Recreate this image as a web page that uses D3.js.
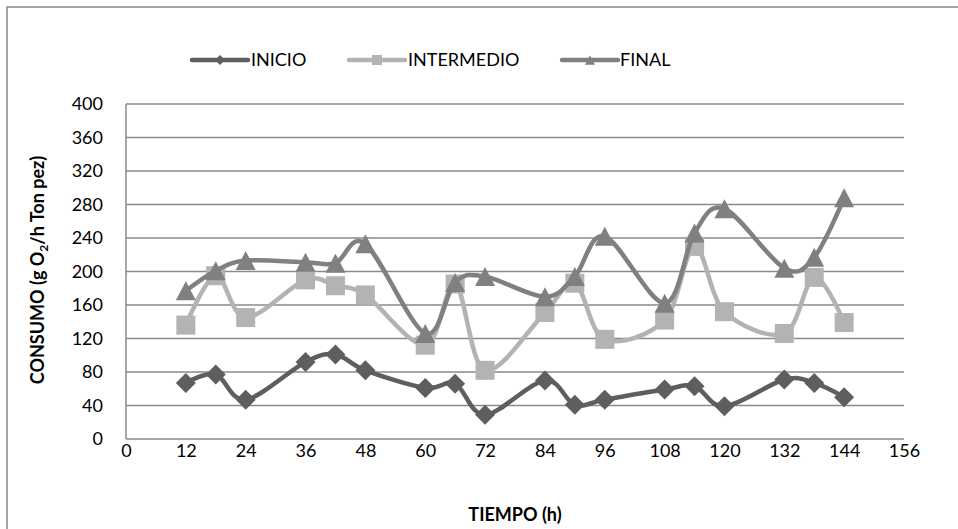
<!DOCTYPE html>
<html>
<head>
<meta charset="utf-8">
<script src="https://cdn.jsdelivr.net/npm/d3@7/dist/d3.min.js"></script>
<style>
  html, body { margin: 0; padding: 0; background: #fff; }
  svg { display: block; }
  text { font-family: Lato, "Open Sans", sans-serif; fill: #000; }
</style>
</head>
<body>
<svg id="chart" width="958" height="529"></svg>
<script>
// Sampling times (hours)
const hours = [12, 18, 24, 36, 42, 48, 60, 66, 72, 84, 90, 96, 108, 114, 120, 132, 138, 144];

// Oxygen consumption (g O2 / h Ton pez) for each stage
const inicio     = [67, 77, 47, 92, 101, 82, 61, 66, 29, 70, 41, 47, 59, 63, 39, 71, 67, 50];
const intermedio = [136, 195, 145, 190, 183, 172, 112, 185, 82, 151, 186, 119, 142, 230, 152, 126, 193, 139];
const final      = [177, 201, 213, 211, 210, 233, 126, 187, 194, 170, 194, 242, 162, 246, 275, 204, 217, 288];

const seriesNames = ["INICIO", "INTERMEDIO", "FINAL"];
const xTicks = [0, 12, 24, 36, 48, 60, 72, 84, 96, 108, 120, 132, 144, 156];
const yTicks = [0, 40, 80, 120, 160, 200, 240, 280, 320, 360, 400];

const svg = d3.select("#chart");

const plot = { left: 126, right: 904, top: 104, bottom: 439 };
const x = d3.scaleLinear().domain([0, 156]).range([plot.left, plot.right]);
const y = d3.scaleLinear().domain([0, 400]).range([plot.bottom, plot.top]);

const styles = [
  { color: "#5e5e5e", marker: "diamond" },
  { color: "#b3b3b3", marker: "square" },
  { color: "#808080", marker: "triangle" }
];

// Outer chart frame
svg.append("rect")
  .attr("x", 7).attr("y", 7)
  .attr("width", 980).attr("height", 560)
  .attr("fill", "none").attr("stroke", "#878787").attr("stroke-width", 1.5);

// Horizontal gridlines
svg.append("g")
  .selectAll("line")
  .data(yTicks)
  .join("line")
  .attr("x1", plot.left).attr("x2", plot.right)
  .attr("y1", d => y(d)).attr("y2", d => y(d))
  .attr("stroke", "#8a8a8a").attr("stroke-width", 1.5);

// Left axis line
svg.append("line")
  .attr("x1", plot.left).attr("x2", plot.left)
  .attr("y1", plot.top).attr("y2", plot.bottom)
  .attr("stroke", "#8a8a8a").attr("stroke-width", 1.5);

// Y tick labels
const yAxis = d3.axisLeft(y).tickValues(yTicks).tickSize(0).tickPadding(23);
const gy = svg.append("g").attr("transform", `translate(${plot.left},0)`).call(yAxis);
gy.select(".domain").remove();
gy.selectAll("text").attr("font-size", 18).attr("font-family", "Lato, sans-serif").attr("fill", "#000");

// X tick labels
const xAxis = d3.axisBottom(x).tickValues(xTicks).tickSize(0).tickPadding(5);
const gx = svg.append("g").attr("transform", `translate(0,${plot.bottom})`).call(xAxis);
gx.select(".domain").remove();
gx.selectAll("text").attr("font-size", 18).attr("font-family", "Lato, sans-serif").attr("fill", "#000");

// Axis titles
svg.append("text")
  .attr("x", (plot.left + plot.right) / 2)
  .attr("y", 521)
  .attr("text-anchor", "middle")
  .attr("font-size", 18).attr("font-weight", "bold")
  .text("TIEMPO (h)");

const yTitle = svg.append("text")
  .attr("transform", "translate(44,270) rotate(-90)")
  .attr("text-anchor", "middle")
  .attr("font-size", 18).attr("font-weight", "bold");
yTitle.append("tspan").text("CONSUMO (g O");
yTitle.append("tspan").attr("font-size", 12).attr("dy", 4).text("2");
yTitle.append("tspan").attr("dy", -4).text("/h Ton pez)");

// Marker shapes
function markerPath(kind, s) {
  if (kind === "diamond") return `M0,${-s}L${s},0L0,${s}L${-s},0Z`;
  if (kind === "square") return `M${-s},${-s}H${s}V${s}H${-s}Z`;
  const h = s * 1.9;
  return `M0,${-h / 2}L${s},${h / 2}L${-s},${h / 2}Z`;
}
const markerSize = { diamond: 10, square: 9.5, triangle: 10 };

const line = d3.line()
  .x(d => x(d[0]))
  .y(d => y(d[1]))
  .curve(d3.curveCatmullRom.alpha(0));

const allSeries = [inicio, intermedio, final];
allSeries.forEach((vals, i) => {
  const pts = hours.map((h, j) => [h, vals[j]]);
  const st = styles[i];
  const g = svg.append("g");
  g.append("path")
    .attr("d", line(pts))
    .attr("fill", "none")
    .attr("stroke", st.color)
    .attr("stroke-width", 4.5)
    .attr("stroke-linejoin", "round")
    .attr("stroke-linecap", "round");
  g.selectAll("path.m")
    .data(pts)
    .join("path")
    .attr("class", "m")
    .attr("transform", d => `translate(${x(d[0])},${y(d[1])})`)
    .attr("d", markerPath(st.marker, markerSize[st.marker]))
    .attr("fill", st.color);
});

// Legend
const legendItems = [
  { x: 192, textX: 251 },
  { x: 349, textX: 408 },
  { x: 562, textX: 620 }
];
const legendY = 60;
seriesNames.forEach((name, i) => {
  const st = styles[i];
  const li = legendItems[i];
  const g = svg.append("g");
  g.append("line")
    .attr("x1", li.x).attr("x2", li.x + 56)
    .attr("y1", legendY).attr("y2", legendY)
    .attr("stroke", st.color).attr("stroke-width", 4.5)
    .attr("stroke-linecap", "round");
  g.append("path")
    .attr("transform", `translate(${li.x + 28},${legendY})`)
    .attr("d", markerPath(st.marker, 5))
    .attr("fill", st.color);
  g.append("text")
    .attr("x", li.textX).attr("y", legendY)
    .attr("dy", "0.35em")
    .attr("font-size", 18)
    .text(name);
});
</script>
</body>
</html>
